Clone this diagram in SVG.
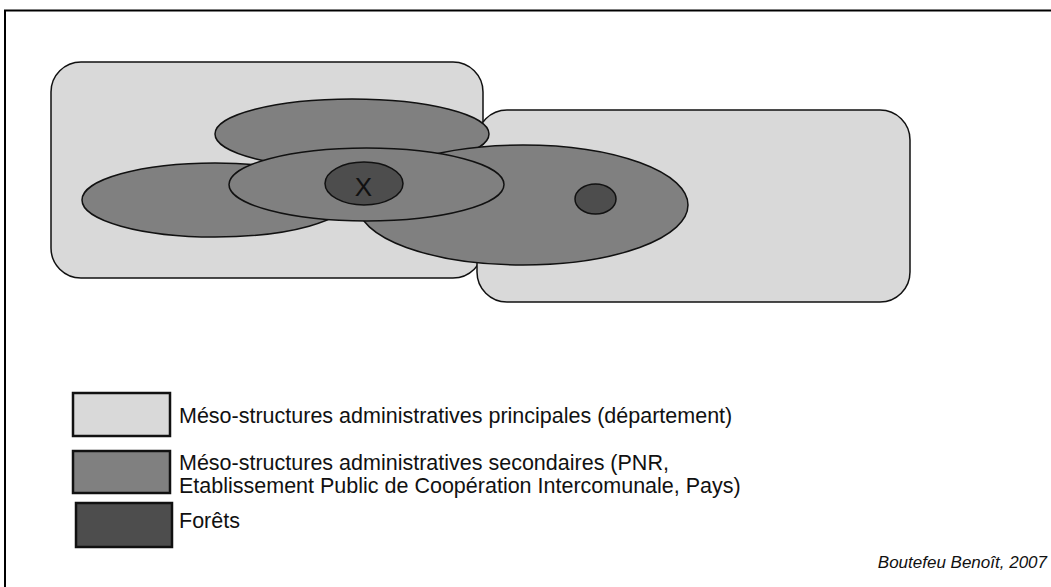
<svg xmlns="http://www.w3.org/2000/svg" width="1051" height="587" viewBox="0 0 1051 587">
<style>
.dep{fill:#d9d9d9;stroke:#111;stroke-width:1.5}
.sec{fill:#808080;stroke:#111;stroke-width:1.5}
.for{fill:#4d4d4d;stroke:#111;stroke-width:1.5}
.leg{stroke:#111;stroke-width:2.5}
.t{font-family:"Liberation Sans",Arial,sans-serif;font-size:21.5px;fill:#111}
</style>
<rect x="0" y="0" width="1051" height="587" fill="#fff"/>
<rect id="frame" x="5" y="10.5" width="1100" height="640" fill="none" stroke="#000" stroke-width="2"/>
<g id="dep-left"><rect class="dep" x="51" y="62" width="432" height="216" rx="30" ry="30"/></g>
<g id="dep-right"><rect class="dep" x="477" y="110" width="433" height="192" rx="30" ry="30"/></g>
<g id="sec-top"><ellipse class="sec" cx="352" cy="134" rx="137" ry="35"/></g>
<g id="sec-left"><ellipse class="sec" cx="215" cy="200" rx="133" ry="37"/></g>
<g id="sec-right"><ellipse class="sec" cx="523" cy="205" rx="165" ry="60"/></g>
<g id="sec-center"><ellipse class="sec" cx="366.5" cy="184.5" rx="137.5" ry="36.5"/></g>
<g id="forest-x"><ellipse class="for" cx="364" cy="183.5" rx="39" ry="21.5"/>
<text x="363.5" y="196" text-anchor="middle" style="font-family:'Liberation Sans',Arial,sans-serif;font-size:26px;fill:#111">X</text></g>
<g id="forest-small"><ellipse class="for" cx="595.5" cy="199" rx="20.5" ry="15"/></g>
<g id="connectors"></g>
<g id="legend-dep"><rect class="leg" x="73" y="393" width="97" height="43" fill="#d9d9d9"/>
<text class="t" x="179" y="423">Méso-structures administratives principales (département)</text></g>
<g id="legend-sec"><rect class="leg" x="73" y="451" width="97" height="42" fill="#808080"/>
<text class="t" x="179" y="470">Méso-structures administratives secondaires (PNR,</text>
<text class="t" x="179" y="493">Etablissement Public de Coopération Intercomunale, Pays)</text></g>
<g id="legend-for"><rect class="leg" x="76" y="503" width="96" height="44" fill="#4d4d4d"/>
<text class="t" x="179" y="528">Forêts</text></g>
<text x="1047" y="568" text-anchor="end" style="font-family:'Liberation Sans',Arial,sans-serif;font-size:17px;font-style:italic;fill:#111">Boutefeu Benoît, 2007</text>
</svg>
